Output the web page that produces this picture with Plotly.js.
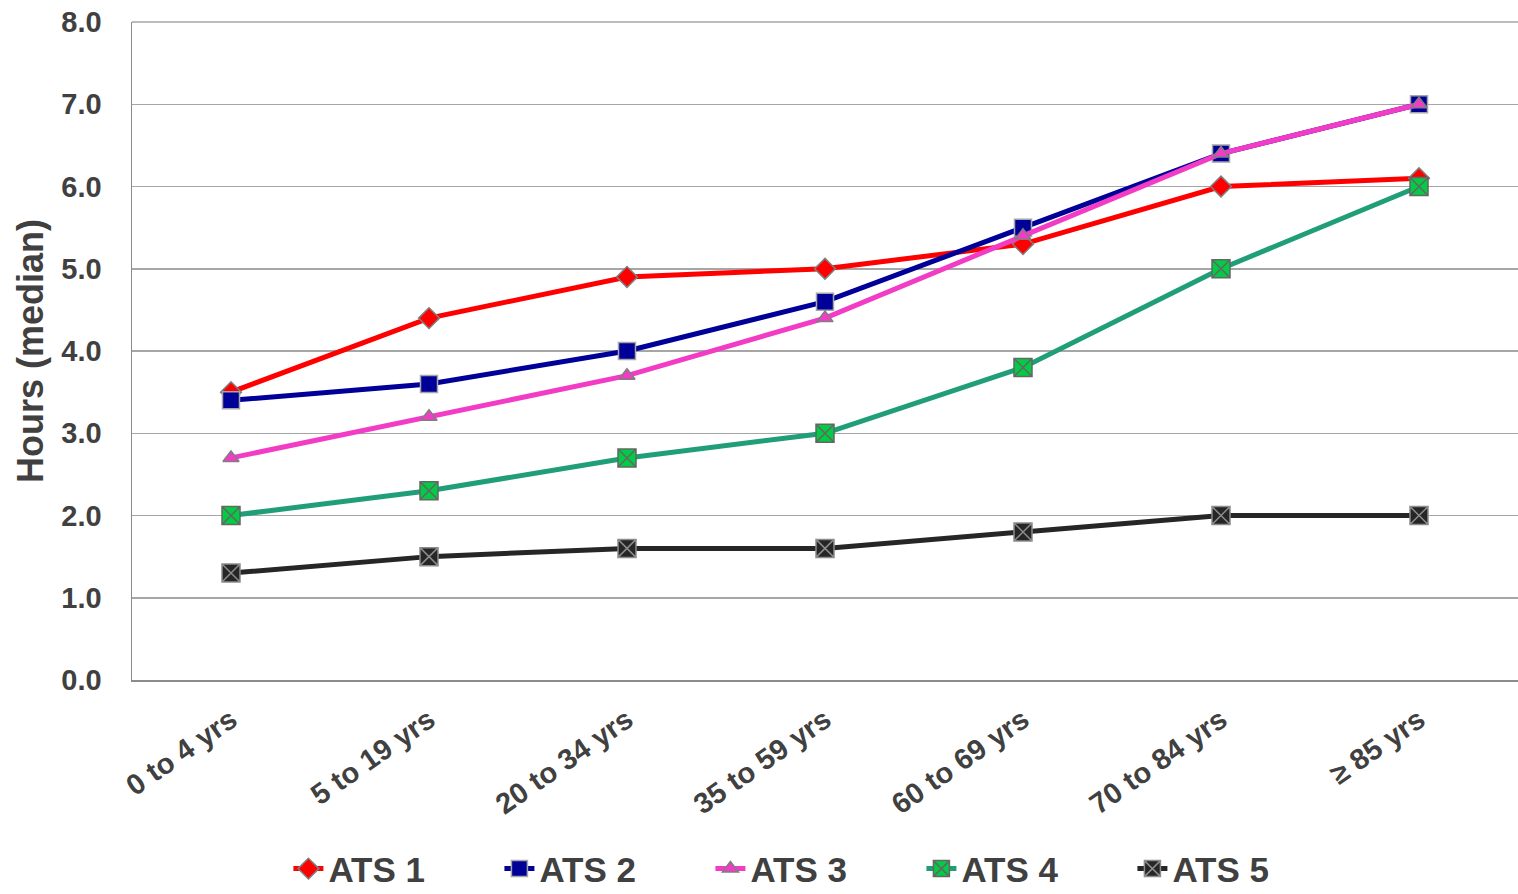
<!DOCTYPE html>
<html>
<head>
<meta charset="utf-8">
<script src="https://cdn.plot.ly/plotly-3.0.1.min.js"></script>
<style>
html,body{margin:0;padding:0;background:#fff;}
#chart{width:1518px;height:894px;}
</style>
</head>
<body>
<div id="chart"></div>
<script>
const categories = ["0 to 4 yrs", "5 to 19 yrs", "20 to 34 yrs", "35 to 59 yrs", "60 to 69 yrs", "70 to 84 yrs", "\u2265 85 yrs"];
const seriesNames = ["ATS 1", "ATS 2", "ATS 3", "ATS 4", "ATS 5"];
const ats1 = [3.5, 4.4, 4.9, 5.0, 5.3, 6.0, 6.1];
const ats2 = [3.4, 3.6, 4.0, 4.6, 5.5, 6.4, 7.0];
const ats3 = [2.7, 3.2, 3.7, 4.4, 5.4, 6.4, 7.0];
const ats4 = [2.0, 2.3, 2.7, 3.0, 3.8, 5.0, 6.0];
const ats5 = [1.3, 1.5, 1.6, 1.6, 1.8, 2.0, 2.0];
const yTicks = [0, 1, 2, 3, 4, 5, 6, 7, 8];
const yTitle = "Hours (median)";

const styles = [
  {line:"#ff0000", fill:"#ff0000", sym:"diamond", size:16, mline:"#7f7f7f"},
  {line:"#000099", fill:"#000099", sym:"square", size:17, mline:"#a6a6a6"},
  {line:"#f23cc6", fill:"#f23cc6", sym:"triangle-up", size:14, mline:"#7f7f7f"},
  {line:"#1f9e78", fill:"#00cc44", sym:"square-x", size:18, mline:"#666666"},
  {line:"#262626", fill:"#262626", sym:"square-x", size:18, mline:"#8c8c8c"}
];
const values = [ats1, ats2, ats3, ats4, ats5];
const bold = s => "<b>" + s + "</b>";

const traces = values.map((v, i) => ({
  type: "scatter",
  mode: "lines+markers",
  name: bold(seriesNames[i]),
  x: categories,
  y: v,
  line: {color: styles[i].line, width: 5},
  marker: {symbol: styles[i].sym, size: styles[i].size, color: styles[i].fill,
           line: {color: styles[i].mline, width: 1.5}}
}));

const font = "Arial, 'Liberation Sans', sans-serif";
const layout = {
  width: 1518, height: 894,
  margin: {l: 132, r: 0, t: 22, b: 214, autoexpand: false},
  paper_bgcolor: "#ffffff",
  plot_bgcolor: "#ffffff",
  showlegend: true,
  font: {family: font, color: "#404040"},
  xaxis: {
    type: "category",
    range: [-0.5, 6.5],
    tickvals: categories,
    ticktext: categories.map(bold),
    tickangle: -35,
    tickfont: {family: font, size: 29, color: "#404040"},
    ticklabelstandoff: 10,
    showgrid: false,
    showline: true, linecolor: "#8c8c8c", linewidth: 1.5,
    ticks: "", zeroline: false, automargin: false
  },
  yaxis: {
    range: [0, 8],
    tickvals: yTicks,
    ticktext: yTicks.map(t => bold(t.toFixed(1))),
    tickfont: {family: font, size: 29, color: "#404040"},
    showgrid: true, gridcolor: "#a6a6a6", gridwidth: 1.5,
    showline: true, linecolor: "#8c8c8c", linewidth: 1.5,
    ticks: "outside", ticklen: 23, tickcolor: "rgba(0,0,0,0)",
    zeroline: false, automargin: false
  },
  annotations: [{
    text: bold(yTitle), textangle: -90,
    xref: "paper", yref: "paper", x: -0.0736, y: 0.5,
    xanchor: "center", yanchor: "middle", showarrow: false,
    font: {family: font, size: 36, color: "#404040"}
  }],
  legend: {
    orientation: "h",
    xref: "container", yref: "paper",
    x: 0.19, xanchor: "left",
    y: -0.287, yanchor: "middle",
    font: {family: font, size: 35, color: "#404040"},
    entrywidth: 166, entrywidthmode: "pixels",
    traceorder: "normal",
    tracegroupgap: 0
  },
  shapes: [{type: "line", xref: "paper", yref: "paper", x0: 0, x1: 1, y0: 1, y1: 1,
            line: {color: "#a6a6a6", width: 1.5}}]
};

Plotly.newPlot("chart", traces, layout, {displayModeBar: false, staticPlot: true});
</script>
</body>
</html>
